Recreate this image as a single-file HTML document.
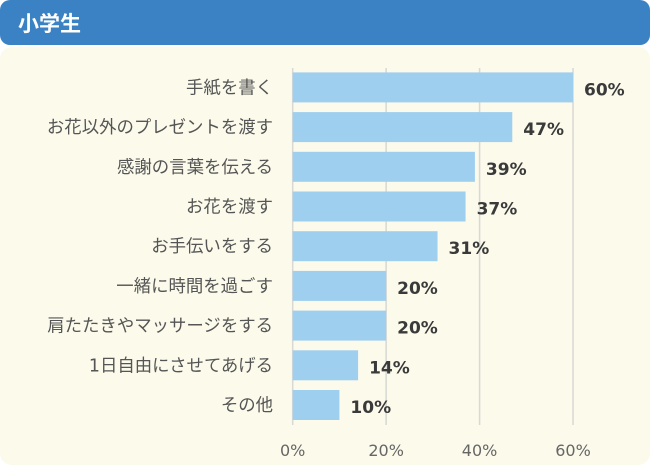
<!DOCTYPE html>
<html><head><meta charset="utf-8"><style>
body{margin:0;width:650px;height:465px;background:#fff;overflow:hidden;font-family:"DejaVu Sans","Noto Sans CJK JP",sans-serif}
#hdr{position:absolute;left:0;top:0;width:650px;height:45px;background:#3a82c4;border-radius:10px 10px 10px 10px}
#hdr span{position:absolute;left:18px;top:8px;color:#fff;font-weight:bold;font-size:21px}
#panel{position:absolute;left:0;top:47px;width:650px;height:418px;background:#fcfaeb;border-radius:12px}
svg{position:absolute;left:0;top:0}
</style></head><body>
<div id="hdr"><span>小学生</span></div>
<div id="panel"></div>
<svg id="chart" width="650" height="465" font-family="DejaVu Sans, Noto Sans CJK JP, sans-serif"></svg>
<script>
const categories=["手紙を書く","お花以外のプレゼントを渡す","感謝の言葉を伝える","お花を渡す","お手伝いをする","一緒に時間を過ごす","肩たたきやマッサージをする","1日自由にさせてあげる","その他"];
const values=[60,47,39,37,31,20,20,14,10];
const ticks=[0,20,40,60];
const NS="http://www.w3.org/2000/svg";
const svg=document.getElementById('chart');
const x0=292.7,xs=4.672,y0=72.4,pitch=39.7,bh=30;
function X(v){return x0+v*xs}
function Y(i){return y0+i*pitch}
function mk(t,a,txt){const e=document.createElementNS(NS,t);for(const k in a)e.setAttribute(k,a[k]);if(txt!=null)e.textContent=txt;svg.appendChild(e);return e}
ticks.forEach(t=>{
 const l=mk('line',{x1:X(t),x2:X(t),y1:68,y2:425,stroke:'#d8d8d4','stroke-width':1.5});
 
 
 const tx=mk('text',{x:X(t),y:456,'text-anchor':'middle','font-size':16,fill:'#666'},t+'%');
 
 
});
categories.forEach((c,i)=>{
 const y=Y(i);
 const r=mk('rect',{x:X(0),y:y,width:X(values[i])-X(0),height:bh,fill:'#9fcfef'});
 
 
 const lb=mk('text',{x:273,y:y+bh/2+6,'text-anchor':'end','font-size':17.4,fill:'#555'},c);
 
 
 const v=mk('text',{x:X(values[i])+11,y:y+bh/2+8,'font-size':17,'font-weight':'bold',fill:'#3a3a3a'},values[i]+'%');
 
 
});
</script>
</body></html>
